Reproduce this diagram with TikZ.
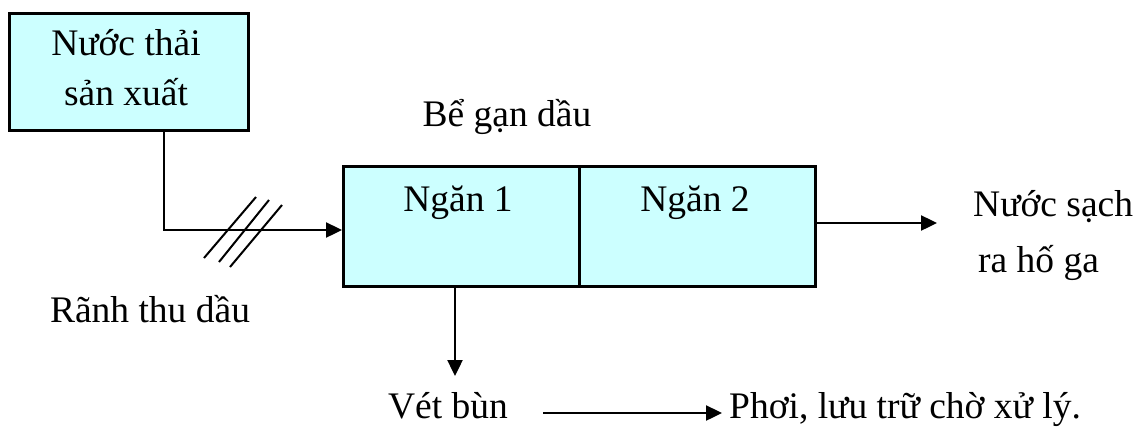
\documentclass[tikz,border=0pt]{standalone}
\usepackage{fontspec}
\setmainfont{Liberation Serif}
\usetikzlibrary{arrows.meta}
\definecolor{boxfill}{HTML}{CCFFFF}
\begin{document}
\begin{tikzpicture}[x=1pt,y=-1pt,
  box/.style={draw=black, fill=boxfill, line width=2.6pt, rectangle, inner sep=0pt, anchor=north west},
  txt/.style={anchor=base, inner sep=0pt, font=\fontsize{37.5}{44}\selectfont},
  arr/.style={line width=2.4pt, -{Triangle[length=16pt,width=15pt]}},
  slash/.style={line width=2pt}]
\useasboundingbox (0,0) rectangle (1140,429);
% boxes
\node[box, minimum width=239pt, minimum height=117pt] (box1) at (8,12) {};
\node[box, minimum width=236pt, minimum height=120pt] (ngan1) at (342,165) {};
\node[box, minimum width=236pt, minimum height=120pt] (ngan2) at (578,165) {};
% texts
\node[txt] (t1a) at (126,55) {Nước thải};
\node[txt] (t1b) at (126,105) {sản xuất};
\node[txt] (tbe) at (507,126) {Bể gạn dầu};
\node[txt] (tn1) at (458,211) {Ngăn 1};
\node[txt] (tn2) at (695,211) {Ngăn 2};
\node[txt, anchor=base west] (tns1) at (973,216) {Nước sạch};
\node[txt, anchor=base west] (tns2) at (978,272) {ra hố ga};
\node[txt] (tran) at (150,322) {Rãnh thu dầu};
\node[txt] (vet) at (448,418) {Vét bùn};
\node[txt, anchor=base west] (phoi) at (729,418) {Phơi, lưu trữ chờ xử lý.};
% coordinates
\coordinate (c1) at (164,230);
\coordinate (c2) at (455,376);
\coordinate (c3) at (937,223);
\coordinate (c4) at (543,413);
\coordinate (c5) at (722,413);
% connectors
\draw[arr] (box1.south -| c1) -- (c1) -- (c1 -| ngan1.west);
\draw[arr] (ngan1.south -| c2) -- (c2);
\draw[arr] (ngan2.east |- c3) -- (c3);
\draw[arr] (c4) -- (c5);
% slashes
\draw[slash] (204,258) -- (256,197);
\draw[slash] (219,262) -- (269,200);
\draw[slash] (230,267) -- (282,205);
\end{tikzpicture}
\end{document}
